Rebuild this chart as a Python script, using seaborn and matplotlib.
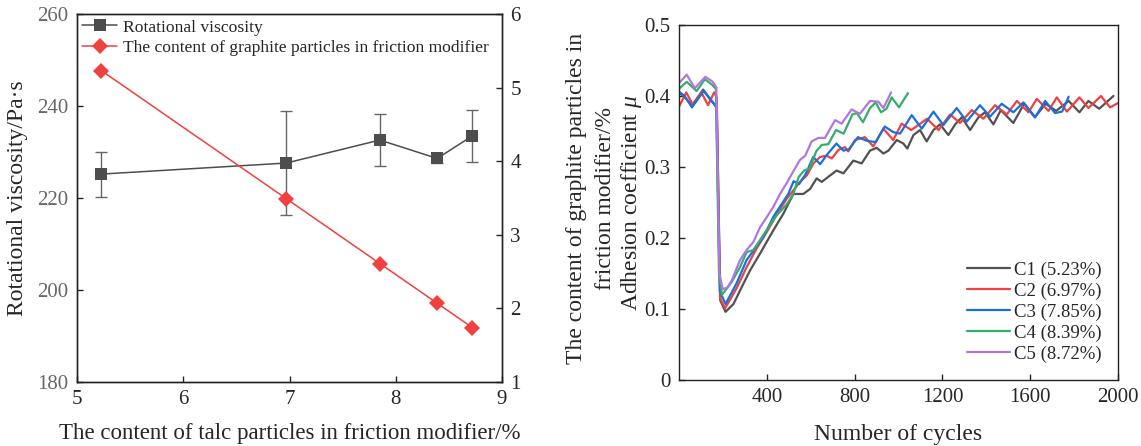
import matplotlib
matplotlib.use("Agg")
import matplotlib.pyplot as plt
import seaborn as sns

# ---- viscosity vs talc content ----
talc = [5.23, 6.97, 7.85, 8.39, 8.72]
viscosity = [225.2, 227.6, 232.6, 228.6, 233.5]
viscosity_err = [4.9, 11.3, 5.6, 0.9, 5.7]
graphite = [5.23, 3.49, 2.61, 2.07, 1.74]

# ---- adhesion coefficient vs number of cycles ----
c1_cycles = [0, 20, 60, 110, 150, 172, 188, 212, 248, 278, 323, 369, 430, 475, 521, 566,
             597, 627, 650, 688, 718, 749, 794, 832, 870, 900, 931, 954, 992, 1022, 1040,
             1068, 1098, 1128, 1159, 1189, 1227, 1258, 1288, 1326, 1364, 1394, 1432, 1466,
             1523, 1572, 1621, 1670, 1718, 1775, 1824, 1865, 1914, 1979]
c1_mu = [0.405, 0.400, 0.387, 0.409, 0.392, 0.385, 0.112, 0.096, 0.107, 0.126, 0.154,
         0.178, 0.211, 0.234, 0.262, 0.262, 0.269, 0.284, 0.279, 0.288, 0.295, 0.291,
         0.309, 0.305, 0.323, 0.327, 0.319, 0.323, 0.338, 0.333, 0.326, 0.345, 0.352,
         0.336, 0.352, 0.360, 0.345, 0.360, 0.370, 0.352, 0.370, 0.377, 0.360, 0.380,
         0.362, 0.389, 0.370, 0.389, 0.379, 0.393, 0.377, 0.393, 0.382, 0.400]

c2_cycles = [0, 33, 64, 102, 132, 160, 172, 187, 210, 262, 308, 353, 399, 444, 490, 521,
             551, 582, 612, 642, 673, 696, 726, 756, 771, 802, 847, 885, 931, 976, 1014,
             1058, 1130, 1182, 1235, 1280, 1334, 1387, 1440, 1493, 1539, 1592, 1630, 1683,
             1721, 1767, 1824, 1865, 1922, 1963, 2000]
c2_mu = [0.385, 0.405, 0.387, 0.405, 0.387, 0.405, 0.398, 0.115, 0.101, 0.129, 0.159,
         0.185, 0.208, 0.232, 0.255, 0.267, 0.279, 0.288, 0.305, 0.314, 0.316, 0.312,
         0.324, 0.328, 0.322, 0.338, 0.342, 0.329, 0.354, 0.338, 0.361, 0.352, 0.368,
         0.352, 0.374, 0.362, 0.380, 0.368, 0.387, 0.374, 0.393, 0.377, 0.396, 0.379,
         0.398, 0.378, 0.398, 0.383, 0.400, 0.384, 0.390]

c3_cycles = [0, 25, 59, 85, 112, 145, 170, 186, 212, 262, 308, 346, 384, 430, 468, 498,
             522, 547, 577, 611, 643, 676, 717, 749, 774, 815, 855, 896, 937, 977, 1007,
             1060, 1106, 1159, 1204, 1265, 1311, 1371, 1417, 1470, 1523, 1569, 1622, 1668,
             1713, 1745, 1775]
c3_mu = [0.406, 0.400, 0.384, 0.395, 0.407, 0.395, 0.384, 0.125, 0.107, 0.136, 0.169,
         0.185, 0.201, 0.230, 0.248, 0.262, 0.280, 0.276, 0.290, 0.314, 0.304, 0.318,
         0.333, 0.323, 0.325, 0.342, 0.337, 0.335, 0.357, 0.349, 0.347, 0.373, 0.354,
         0.378, 0.359, 0.383, 0.364, 0.387, 0.371, 0.389, 0.377, 0.391, 0.370, 0.393,
         0.376, 0.378, 0.399]

c4_cycles = [0, 35, 80, 118, 150, 168, 182, 196, 240, 278, 308, 338, 369, 407, 445, 490,
             521, 545, 570, 595, 625, 650, 680, 715, 750, 790, 810, 838, 870, 896, 920,
             945, 969, 1002, 1043]
c4_mu = [0.410, 0.420, 0.407, 0.4235, 0.416, 0.410, 0.150, 0.120, 0.138, 0.159, 0.180,
         0.183, 0.197, 0.215, 0.232, 0.247, 0.262, 0.286, 0.295, 0.298, 0.322, 0.331,
         0.332, 0.352, 0.347, 0.374, 0.376, 0.363, 0.383, 0.391, 0.377, 0.382, 0.398,
         0.384, 0.404]

c5_cycles = [0, 35, 72, 120, 154, 170, 184, 199, 220, 240, 278, 308, 338, 369, 399, 430,
             460, 490, 521, 551, 575, 604, 635, 665, 711, 741, 786, 824, 870, 908, 931, 966]
c5_mu = [0.418, 0.430, 0.411, 0.427, 0.420, 0.412, 0.150, 0.128, 0.130, 0.140, 0.169,
         0.183, 0.194, 0.215, 0.229, 0.244, 0.262, 0.277, 0.294, 0.310, 0.316, 0.336,
         0.341, 0.341, 0.366, 0.361, 0.381, 0.375, 0.393, 0.392, 0.383, 0.405]

series_labels = ["C1 (5.23%)", "C2 (6.97%)", "C3 (7.85%)", "C4 (8.39%)", "C5 (8.72%)"]
series_colors = ["#515151", "#F14040", "#1A6FDF", "#37AD6B", "#B177DE"]

sns.set_theme(style="ticks")
plt.rcParams["font.family"] = ["Liberation Serif", "DejaVu Serif"]
plt.rcParams["mathtext.fontset"] = "custom"
plt.rcParams["mathtext.rm"] = "Liberation Serif"
plt.rcParams["mathtext.it"] = "Liberation Serif:italic"
plt.rcParams["axes.linewidth"] = 1.0
plt.rcParams["axes.edgecolor"] = "#222222"

fig = plt.figure(figsize=(11.41, 4.46), dpi=100)

# ---------------- left panel ----------------
ax1 = fig.add_axes([0.0675, 0.1435, 0.3725, 0.8251])
ax2 = ax1.twinx()

visc_color = "#4d4d4d"
red = "#F14040"
ax1.errorbar(talc, viscosity, yerr=viscosity_err, fmt="none", ecolor="#666666",
             elinewidth=1.0, capsize=4, capthick=1.0, zorder=2)
sns.lineplot(x=talc, y=viscosity, ax=ax1, color=visc_color, marker="s", markersize=8,
             markeredgewidth=0, linewidth=1.1, label="Rotational viscosity",
             legend=False, zorder=3)
sns.lineplot(x=talc, y=graphite, ax=ax2, color=red, marker="D", markersize=8,
             markeredgewidth=0, linewidth=1.1,
             label="The content of graphite particles in friction modifier",
             legend=False, zorder=3)

ax1.set_xlim(5, 9)
ax1.set_ylim(180, 260)
ax2.set_ylim(1, 6)
ax1.set_xticks([5, 6, 7, 8, 9])
ax1.set_yticks([180, 200, 220, 240, 260])
ax2.set_yticks([1, 2, 3, 4, 5, 6])

ax1.tick_params(axis="both", direction="in", length=4, width=1.0, labelsize=15, pad=6)
ax1.tick_params(axis="y", labelcolor="#666666")
ax2.tick_params(axis="y", direction="in", length=4, width=1.0, labelsize=15, pad=6)

ax1.set_xlabel("The content of talc particles in friction modifier/%", fontsize=16.5,
               labelpad=10)
ax1.set_ylabel("Rotational viscosity/Pa·s", fontsize=17)
ax2.set_ylabel("The content of graphite particles in\nfriction modifier/%", fontsize=17,
               linespacing=1.5)
ax2.yaxis.set_label_coords(1.15, 0.5)
ax1.yaxis.set_label_coords(-0.115, 0.5)

h1, l1 = ax1.get_legend_handles_labels()
h2, l2 = ax2.get_legend_handles_labels()
ax1.legend(h1 + h2, l1 + l2, loc="upper left", frameon=False, fontsize=12.6,
           handlelength=2.0, handletextpad=0.3, borderaxespad=0.0, borderpad=0.3,
           labelspacing=0.25)

for a in (ax1, ax2):
    for s in a.spines.values():
        s.set_linewidth(1.0)

# ---------------- right panel ----------------
ax3 = fig.add_axes([0.5951, 0.148, 0.3848, 0.796])
curves = [(c1_cycles, c1_mu), (c2_cycles, c2_mu), (c3_cycles, c3_mu),
          (c4_cycles, c4_mu), (c5_cycles, c5_mu)]
for (cx, cy), lab, col in zip(curves, series_labels, series_colors):
    sns.lineplot(x=cx, y=cy, ax=ax3, color=col, linewidth=1.6, label=lab, sort=False)

ax3.set_xlim(0, 2000)
ax3.set_ylim(0, 0.5)
ax3.set_xticks([400, 800, 1200, 1600, 2000])
ax3.set_yticks([0, 0.1, 0.2, 0.3, 0.4, 0.5])
ax3.set_yticklabels(["0", "0.1", "0.2", "0.3", "0.4", "0.5"])
ax3.tick_params(axis="both", direction="in", length=4, width=1.0, labelsize=15, pad=6)
ax3.set_xlabel("Number of cycles", fontsize=17, labelpad=12)
ax3.set_ylabel(r"Adhesion coefficient $\mu$", fontsize=17)
ax3.yaxis.set_label_coords(-0.08, 0.5)
ax3.legend(loc="lower right", frameon=False, fontsize=13.5, handlelength=2.3,
           handletextpad=0.2, labelspacing=0.2, borderaxespad=0.5)
for s in ax3.spines.values():
    s.set_linewidth(1.0)

fig.savefig("out.png", dpi=100)
